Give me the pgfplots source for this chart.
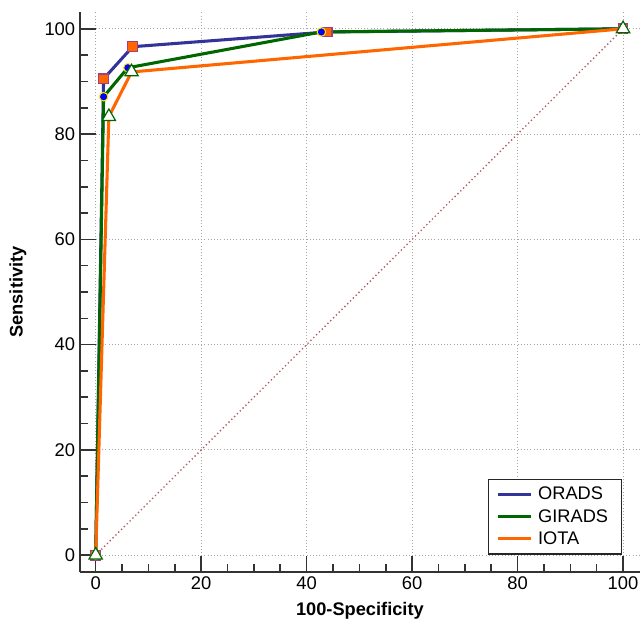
\documentclass[border=0pt]{standalone}
\usepackage{pgfplots}
\pgfplotsset{compat=1.18}
\usepackage{fontspec}
\setmainfont{Liberation Sans}
\definecolor{oradsline}{HTML}{333399}
\definecolor{giradsline}{HTML}{006600}
\definecolor{iotaline}{HTML}{FF6600}
\definecolor{sqedge}{HTML}{A0407F}
\definecolor{diag}{HTML}{A86060}
\begin{document}
\begin{tikzpicture}
\begin{axis}[
  scale only axis,
  width=420.75pt, height=420.75pt,
  xmin=-3, xmax=103.2, ymin=-3.2, ymax=103.2,
  axis lines*=left,
  axis line style={line width=1.6pt, black!80},
  xtick={0,20,40,60,80,100}, ytick={0,20,40,60,80,100},
  minor tick num=3,
  tick align=inside,
  major tick length=12pt, minor tick length=6pt,
  every tick/.style={black!80, line width=1.2pt},
  grid=major,
  major grid style={gray!70, dotted, line width=0.8pt},
  tick label style={font=\fontsize{13.8}{15}\selectfont},
  xticklabel style={inner xsep=0pt},
  /pgf/number format/assume math mode=true,
  xlabel={\textbf{100-Specificity}},
  ylabel={\textbf{Sensitivity}},
  label style={font=\fontsize{13.7}{15}\selectfont, inner sep=0pt},
  xlabel style={at={(axis description cs:0.5,-0.0695)}, anchor=center},
  ylabel style={at={(axis description cs:-0.1105,0.5)}, anchor=center},
  legend style={at={(axis cs:99.8,0.1)}, anchor=south east, draw=black!85, line width=0.9pt,
    font=\fontsize{13.7}{15}\selectfont, row sep=1.5pt, inner xsep=6pt, inner ysep=4pt,
    nodes={inner xsep=4pt}},
  legend cell align=left,
  legend image code/.code={\draw[line width=2.2pt] (0cm,0cm) -- (25pt,0cm);},
]
\addplot[diag, dotted, line width=1pt, forget plot] coordinates {(0,0) (100,100)};
\addplot[oradsline, line width=2.3pt, mark=square*, mark size=3.6pt,
  mark options={fill=iotaline, draw=sqedge, line width=0.8pt}]
  coordinates {(0,0) (1.5,90.5) (7.0,96.6) (43.9,99.4) (100,100)};
\addlegendentry{ORADS}
\addplot[giradsline, line width=2.3pt, mark=*, mark size=3.2pt,
  mark options={fill=blue, draw=yellow!90!orange, line width=0.8pt}]
  coordinates {(0,0) (1.5,87.1) (6.1,92.6) (42.8,99.4) (100,100)};
\addlegendentry{GIRADS}
\addplot[iotaline, line width=2.3pt, mark=triangle*, mark size=5.8pt,
  mark options={fill=white, draw=giradsline, line width=0.9pt}]
  coordinates {(0,0) (2.5,83.3) (6.8,91.8) (100,100)};
\addlegendentry{IOTA}
\end{axis}
\path (current axis.south west) ++(-60pt,-37.5pt);
\path (current axis.north east) ++(0,9pt);
\end{tikzpicture}
\end{document}
